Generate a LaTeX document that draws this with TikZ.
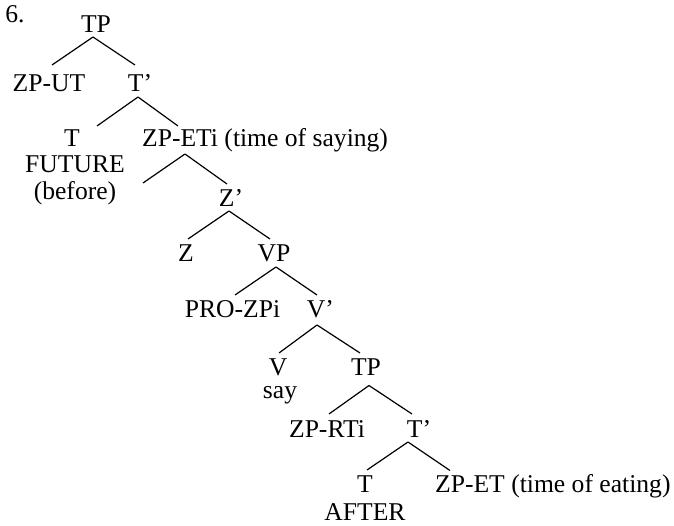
\documentclass[tikz,border=0pt]{standalone}
\usepackage{fontspec}
\setmainfont{Liberation Serif}
\begin{document}
\begin{tikzpicture}[x=1pt,y=-1pt,
  every node/.style={inner sep=0pt, anchor=base},
  font=\fontsize{25.6}{26.5}\selectfont,
  edge/.style={line width=1.2pt}]
\useasboundingbox (0,0) rectangle (674,526);
% nodes
\node (num) at (15,22.5) {6.};
\node (tp1) at (96,33) {TP};
\node (zput) at (49,91.5) {ZP-UT};
\node (tb1) at (140,91.5) {T’};
\node (t1) at (72,147) {T};
\node (fut) at (75,173) {FUTURE};
\node (bef) at (75,200) {(before)};
\node[anchor=base west] (zpeti) at (142,147) {ZP-ETi (time of saying)};
\coordinate (empty) at (143,183);
\node (zb) at (231,207) {Z’};
\node (z) at (186,262) {Z};
\node (vp) at (274,262) {VP};
\node (pro) at (232.5,318) {PRO-ZPi};
\node (vb) at (320.5,318) {V’};
\node (v) at (278,375) {V};
\node (say) at (280,398) {say};
\node (tp2) at (366,375) {TP};
\node (zprti) at (327,437) {ZP-RTi};
\node (tb2) at (419,437) {T’};
\node (t2) at (365,492) {T};
\node (after) at (365,520) {AFTER};
\node[anchor=base west] (zpet) at (435,492) {ZP-ET (time of eating)};
% connectors
\draw[edge] ([shift={(-3,4)}]tp1.base) -- ([shift={(3,-26.5)}]zput.base);
\draw[edge] ([shift={(-3,4)}]tp1.base) -- ([shift={(-5,-26.5)}]tb1.base);
\draw[edge] ([shift={(-2,5.5)}]tb1.base) -- ([shift={(25,-21)}]t1.base);
\draw[edge] ([shift={(-2,5.5)}]tb1.base) -- ([shift={(36,-21)}]zpeti.base west);
\draw[edge] ([shift={(43,7)}]zpeti.base west) -- (empty);
\draw[edge] ([shift={(43,7)}]zpeti.base west) -- ([shift={(-4,-23)}]zb.base);
\draw[edge] ([shift={(-2,4)}]zb.base) -- ([shift={(2,-23)}]z.base);
\draw[edge] ([shift={(-2,4)}]zb.base) -- ([shift={(-4,-23)}]vp.base);
\draw[edge] ([shift={(2,5)}]vp.base) -- ([shift={(2.5,-23)}]pro.base);
\draw[edge] ([shift={(2,5)}]vp.base) -- ([shift={(-3.5,-23)}]vb.base);
\draw[edge] ([shift={(-3.5,7)}]vb.base) -- ([shift={(1,-22)}]v.base);
\draw[edge] ([shift={(-3.5,7)}]vb.base) -- ([shift={(-6,-22)}]tp2.base);
\draw[edge] ([shift={(3,10.5)}]tp2.base) -- ([shift={(2,-23)}]zprti.base);
\draw[edge] ([shift={(3,10.5)}]tp2.base) -- ([shift={(-7,-23)}]tb2.base);
\draw[edge] ([shift={(-11,5)}]tb2.base) -- ([shift={(2,-22)}]t2.base);
\draw[edge] ([shift={(-11,5)}]tb2.base) -- ([shift={(15,-21.5)}]zpet.base west);
\end{tikzpicture}
\end{document}
